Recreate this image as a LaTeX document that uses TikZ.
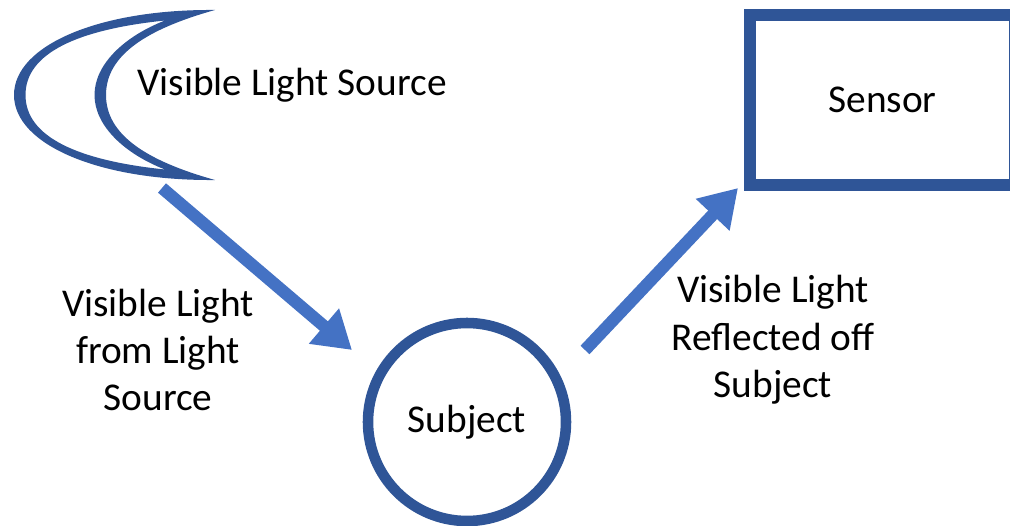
\documentclass[tikz,border=0pt]{standalone}
\usepackage{fontspec}
\setmainfont{Carlito}
\usetikzlibrary{arrows.meta, positioning}

\definecolor{outline}{HTML}{2F5597}
\definecolor{beam}{HTML}{4472C4}

\begin{document}
\begin{tikzpicture}[
        shape style/.style={draw=outline, line width=6pt, fill=white, font=\fontsize{22.4}{27}\selectfont},
        label style/.style={align=center, font=\fontsize{22.4}{27}\selectfont},
        beam arrow/.style={-{Triangle[length=21pt, width=25pt]}, line width=7pt, beam}
    ]
        \useasboundingbox (0,0) rectangle (20.2,10.5);

        % crescent standing for the lamp: outer rim minus inner rim, so the horns stay sharp
        \fill[outline, even odd rule]
            (4.3,10.3) .. controls (2.0,10.32) and (0.28,9.6) .. (0.28,8.6)
                       .. controls (0.28,7.6) and (2.0,6.88) .. (4.3,6.9)
                       .. controls (2.94,7.28) and (2.12,7.8) .. (2.12,8.6)
                       .. controls (2.12,9.4) and (2.94,9.92) .. (4.3,10.3) -- cycle
            (3.3,10.09) .. controls (1.56,9.91) and (0.51,9.44) .. (0.51,8.6)
                        .. controls (0.51,7.76) and (1.56,7.29) .. (3.3,7.11)
                        .. controls (2.5,7.42) and (1.89,7.98) .. (1.89,8.6)
                        .. controls (1.89,9.22) and (2.5,9.78) .. (3.3,10.09) -- cycle;
        \node[label style] (source) at (5.84,8.8) {Visible Light Source};

        \node[shape style, rectangle, minimum width=5.3cm, minimum height=3.4cm, line width=6.6pt] (sensor) at (17.65,8.5) {Sensor};
        \node[shape style, circle, minimum size=3.96cm] (subject) at (9.34,2.06) {Subject};

        \coordinate (source out) at (3.24,6.74);
        \coordinate (subject in) at (7.04,3.5);
        \coordinate (subject out) at (11.7,3.5);
        \coordinate (sensor in) at (14.76,6.74);

        \draw[beam arrow] (source out) -- (subject in);
        \draw[beam arrow] (subject out) -- (sensor in);

        \node[label style] (incoming) at (3.16,3.5) {Visible Light\\from Light\\Source};
        \node[label style] (reflected) at (15.46,3.7) {Visible Light\\Reflected off\\Subject};
    \end{tikzpicture}
\end{document}
